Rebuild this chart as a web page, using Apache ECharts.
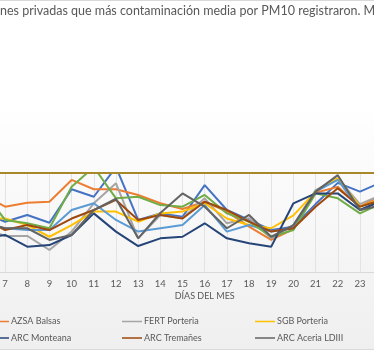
<!DOCTYPE html>
<html>
<head>
<meta charset="utf-8">
<script src="https://cdn.jsdelivr.net/npm/echarts@6/dist/echarts.min.js"></script>
<style>
  html, body { margin: 0; padding: 0; background: #fff; }
  #chart { width: 374px; height: 350px; }
</style>
</head>
<body>
<div id="chart"></div>
<script>
// dias del mes (el eje va del 1 al 31, solo se ve del 6 al 24)
const days = ['1','2','3','4','5','6','7','8','9','10','11','12','13','14','15','16',
  '17','18','19','20','21','22','23','24','25','26','27','28','29','30','31'];

// valores PM10, dias 6..24
const estacion1   = [30, 25.4, 28.8, 24.9, 41.8, 38, 53, 26.3, 29.6, 27.9, 43.9, 31.3, 26.3, 21.2, 22.9, 34.3, 45, 40.6, 45.5];
const azsaBalsas  = [38.9, 33, 35, 35.5, 46.5, 41.8, 41.8, 38.9, 34.7, 31.8, 35.5, 30.5, 22.9, 16.2, 21.7, 40, 43, 33, 38.9];
const fertPorteria = [22.2, 18.2, 18.2, 11.1, 20.4, 34.7, 44.8, 17, 28.8, 27.1, 37.2, 24.6, 27.1, 17, 23.7, 41.4, 47.3, 34.3, 39];
const sgbPorteria = [27.3, 27, 23.7, 17.8, 23.7, 30.5, 30.5, 25.4, 29.6, 30.5, 34.7, 27, 23.7, 22.1, 28.6, 40.6, 47.3, 33, 37];
const estacion5   = [24.2, 22.1, 21.2, 21.2, 31.3, 34.7, 26.3, 20.4, 22.1, 23.7, 33.8, 20.4, 23.7, 20.4, 22.1, 40.6, 46.5, 31.3, 36.4];
const estacion6   = [41, 26.3, 24.6, 22.1, 43.1, 53, 37.2, 38, 33.8, 33, 38.9, 29.6, 25.4, 17.8, 21.2, 39.7, 37.2, 29.6, 34.8];
const arcMonteana = [17.2, 18.7, 12.8, 13.6, 18.7, 29.6, 20.4, 13.1, 17, 17.8, 24.6, 17, 14.5, 12.8, 34.7, 39.7, 39.7, 31.3, 36];
const arcTremanes = [27.3, 21.2, 23.7, 21.2, 27, 31.3, 36.4, 26.3, 28.8, 27, 35.5, 31.3, 25.4, 20.4, 22.1, 33, 42.3, 33, 36.4];
const arcAceria   = [25.3, 22.1, 22.1, 16.2, 18.7, 31.3, 37, 17, 29.8, 39.7, 33, 22.1, 28.8, 17.8, 23.7, 40.6, 48.9, 31.3, 33.8];
const limite      = [50, 50, 50, 50, 50, 50, 50, 50, 50, 50, 50, 50, 50, 50, 50, 50, 50, 50, 50];

// rellenar con null los dias que quedan fuera del recorte
function pad(arr) {
  return [null, null, null, null, null].concat(arr).concat([null, null, null, null, null, null, null]);
}

const FONT = 'Lato';
const GREY = '#595959';

const titleText = 'Estaciones privadas que más contaminación media por PM10 registraron. Mes de marzo';
const ctx = document.createElement('canvas').getContext('2d');
ctx.font = '12.5px ' + FONT;
const titleX = -ctx.measureText('Estacio').width;

function line(name, data, color) {
  return {
    name: name,
    type: 'line',
    data: pad(data),
    symbol: 'none',
    lineStyle: { width: 2, color: color },
    itemStyle: { color: color },
    emphasis: { disabled: true }
  };
}

// una leyenda por entrada, colocadas como en el original
function legendItem(name, left, top) {
  return {
    data: [name], left: left, top: top, padding: 0,
    icon: 'rect', itemWidth: 20, itemHeight: 1.5,
    textStyle: { color: GREY, fontSize: 9, fontFamily: FONT, padding: [0, 0, 0, -3] }
  };
}

let myChart = echarts.init(document.getElementById('chart'));
myChart.setOption({
  animation: false,
  backgroundColor: {
    type: 'linear', x: 0, y: 0, x2: 0, y2: 1,
    colorStops: [
      { offset: 0, color: '#ffffff' },
      { offset: 0.29, color: '#ffffff' },
      { offset: 1, color: '#efefef' }
    ]
  },
  textStyle: { fontFamily: FONT },
  graphic: [
    { type: 'text', x: titleX, y: 10.5, style: { text: titleText, font: '12.5px ' + FONT, fill: GREY, verticalAlign: 'middle' } },
    { type: 'line', shape: { x1: 0, y1: 0.5, x2: 374, y2: 0.5 }, style: { stroke: '#d9d9d9', lineWidth: 1 } },
    { type: 'line', shape: { x1: 0, y1: 349.5, x2: 374, y2: 349.5 }, style: { stroke: '#d9d9d9', lineWidth: 1 } }
  ],
  legend: [
    legendItem('AZSA Balsas', -11, 317),
    legendItem('ARC Monteana', -11, 333.5),
    legendItem('FERT Porteria', 122, 317),
    legendItem('ARC Tremañes', 122, 333.5),
    legendItem('SGB Porteria', 255, 317),
    legendItem('ARC Aceria LDIII', 255, 333.5)
  ],
  grid: { left: -128, right: -163.4, top: 173, bottom: 78, outerBoundsMode: 'none', containLabel: false },
  xAxis: {
    type: 'category',
    data: days,
    boundaryGap: false,
    name: 'DÍAS DEL MES',
    nameLocation: 'middle',
    nameGap: 20,
    nameTextStyle: { color: GREY, fontSize: 9, fontFamily: FONT },
    axisLine: { lineStyle: { color: '#d9d9d9' } },
    axisTick: { show: false },
    axisLabel: { color: GREY, fontSize: 9.5, fontFamily: FONT, margin: 7 },
    splitLine: { show: true, lineStyle: { color: '#e3e3e3', width: 1 } }
  },
  yAxis: {
    type: 'value', min: 0, max: 50, show: false
  },
  series: [
    line('Estación 1', estacion1, '#4472C4'),
    line('AZSA Balsas', azsaBalsas, '#ED7D31'),
    line('FERT Porteria', fertPorteria, '#A5A5A5'),
    line('SGB Porteria', sgbPorteria, '#FFC000'),
    line('Estación 5', estacion5, '#5B9BD5'),
    line('Estación 6', estacion6, '#70AD47'),
    line('ARC Monteana', arcMonteana, '#264478'),
    line('ARC Tremañes', arcTremanes, '#9E480E'),
    line('ARC Aceria LDIII', arcAceria, '#636363'),
    line('Valor límite', limite, '#A8882A')
  ]
});
</script>
</body>
</html>
